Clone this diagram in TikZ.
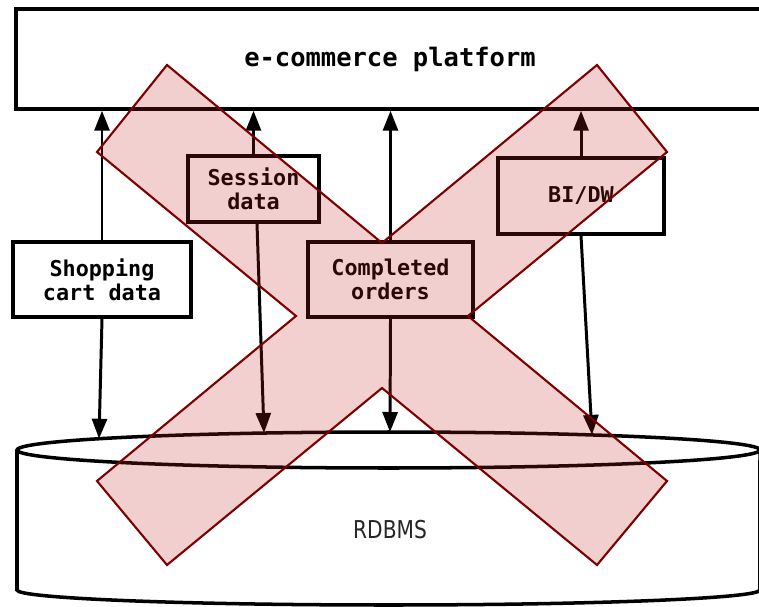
\documentclass[tikz,border=0pt]{standalone}
\usepackage{fontspec}
\usepackage{graphicx}
\setmainfont{DejaVu Sans}
\setmonofont{DejaVu Sans Mono}
\usetikzlibrary{arrows.meta}
\definecolor{vetofill}{RGB}{200,40,40}
\definecolor{vetoline}{RGB}{125,0,0}

\begin{document}
\begin{tikzpicture}[
  x=0.02cm, y=-0.02cm,
  box/.style={
    rectangle,
    draw,
    fill=white,
    line width=2pt,
    inner sep=0pt,
    align=center,
    font=\ttfamily\bfseries\fontsize{12.4}{13.5}\selectfont
  },
  flow/.style={-{Triangle[length=0.4cm,width=0.3cm]}, line width=1.7pt},
  veto/.style={fill=vetofill, fill opacity=0.22, draw=vetoline, line width=1.2pt}
]
  \useasboundingbox (0,0) rectangle (759,607);
  \clip (0,0) rectangle (759,607);

  \node[box, minimum width=14.96cm, minimum height=2cm,
    font=\ttfamily\bfseries\fontsize{14.5}{16}\selectfont] (platform) at (390,59)
    {e-commerce platform};
  \node[box, minimum width=3.56cm, minimum height=1.5cm] (shop) at (102,279.5)
    {Shopping\\cart data};
  \node[box, minimum width=2.62cm, minimum height=1.32cm] (sess) at (253.5,189)
    {Session\\data};
  \node[box, minimum width=3.3cm, minimum height=1.5cm] (done) at (390.5,279.5)
    {Completed\\orders};
  \node[box, minimum width=3.32cm, minimum height=1.52cm] (bidw) at (581,196)
    {BI/DW};

  \filldraw[fill=white, line width=2pt] (17,450) -- (17,590)
    arc[start angle=180, end angle=360, x radius=7.43cm, y radius=0.3cm] -- (760,450);
  \draw[fill=white, line width=2pt] (388.5,450) ellipse [x radius=7.43cm, y radius=0.36cm];
  \node[font=\fontsize{14}{16}\selectfont, text=black!85] (db) at (390,530)
    {\scalebox{0.82}[1]{RDBMS}};

  \coordinate (dbA) at (99,438.7);
  \coordinate (dbB) at (264,433);
  \coordinate (dbC) at (390,432);
  \coordinate (dbD) at (592,434.9);

  \draw[flow] (shop.north) -- (shop.north |- platform.south);
  \draw[flow] (sess.north) -- (sess.north |- platform.south);
  \draw[flow] (done.north) -- (done.north |- platform.south);
  \draw[flow] (bidw.north) -- (bidw.north |- platform.south);
  \draw[flow] (shop.south) -- (dbA);
  \draw[flow] ([xshift=0.07cm]sess.south) -- (dbB);
  \draw[flow] (done.south) -- (dbC);
  \draw[flow] (bidw.south) -- (dbD);

  \draw[veto] (167,65) -- (382,243) -- (597,65) -- (667,152) -- (468,316)
    -- (667,481) -- (597,565) -- (382,388) -- (167,565) -- (97,481)
    -- (296,316) -- (97,152) -- cycle;
\end{tikzpicture}
\end{document}
